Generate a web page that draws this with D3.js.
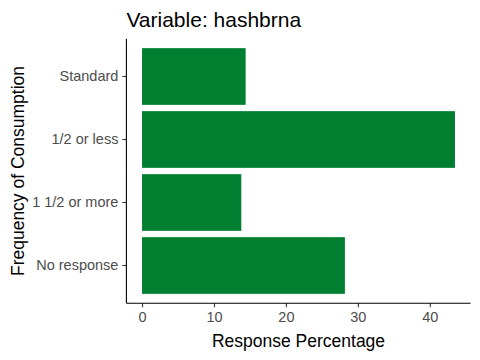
<!DOCTYPE html>
<html>
<head>
<meta charset="utf-8">
<script src="https://cdn.jsdelivr.net/npm/d3@7"></script>
<style>
  body { margin: 0; background: #fff; }
  svg { display: block; font-family: "Liberation Sans", Arial, sans-serif; }
</style>
</head>
<body>
<svg id="chart" width="480" height="360"></svg>
<script>
const categories = ["Standard", "1/2 or less", "1 1/2 or more", "No response"];
const values = [14.4, 43.5, 13.8, 28.2];
const xTicks = [0, 10, 20, 30, 40];
const titleText = "Variable: hashbrna";
const xTitle = "Response Percentage";
const yTitle = "Frequency of Consumption";

const svg = d3.select("#chart");
const panel = { left: 126.4, right: 470.6, top: 38.7, bottom: 303.3 };

const maxV = d3.max(values);
const x = d3.scaleLinear()
  .domain([0 - maxV * 0.05, maxV * 1.05])
  .range([panel.left, panel.right]);

const y = d3.scaleBand()
  .domain(categories)
  .range([panel.top, panel.bottom])
  .paddingInner(0.1)
  .paddingOuter(0.15);

// bars
svg.append("g").selectAll("rect")
  .data(categories.map((c, i) => ({ c, v: values[i] })))
  .join("rect")
  .attr("x", x(0))
  .attr("y", d => y(d.c))
  .attr("width", d => x(d.v) - x(0))
  .attr("height", y.bandwidth())
  .attr("fill", "#017F31");

// x axis
const xAxis = svg.append("g")
  .attr("transform", `translate(0,${panel.bottom})`)
  .call(d3.axisBottom(x).tickValues(xTicks).tickSize(4).tickPadding(4).tickFormat(d3.format("d")));
xAxis.select(".domain").remove();
xAxis.selectAll(".tick line").attr("stroke", "#333").attr("stroke-width", 1.1);
xAxis.selectAll(".tick text").attr("fill", "#4D4D4D").style("font-size", "14.5px")
  .style("font-family", "Liberation Sans, Arial, sans-serif");
svg.append("line")
  .attr("x1", panel.left).attr("x2", panel.right)
  .attr("y1", panel.bottom).attr("y2", panel.bottom)
  .attr("stroke", "#000").attr("stroke-width", 1.1);

// y axis
const yAxis = svg.append("g")
  .attr("transform", `translate(${panel.left},0)`)
  .call(d3.axisLeft(y).tickSize(4).tickPadding(4));
yAxis.select(".domain").remove();
yAxis.selectAll(".tick line").attr("stroke", "#333").attr("stroke-width", 1.1);
yAxis.selectAll(".tick text").attr("fill", "#4D4D4D").style("font-size", "14.5px")
  .style("font-family", "Liberation Sans, Arial, sans-serif");
svg.append("line")
  .attr("x1", panel.left).attr("x2", panel.left)
  .attr("y1", panel.top).attr("y2", panel.bottom)
  .attr("stroke", "#000").attr("stroke-width", 1.1);

// titles
svg.append("text")
  .attr("x", panel.left).attr("y", 27)
  .attr("fill", "#000")
  .style("font-size", "21px")
  .text(titleText);

svg.append("text")
  .attr("x", (panel.left + panel.right) / 2).attr("y", 347)
  .attr("text-anchor", "middle")
  .attr("fill", "#000")
  .style("font-size", "17.5px")
  .text(xTitle);

svg.append("text")
  .attr("transform", `translate(24,${(panel.top + panel.bottom) / 2}) rotate(-90)`)
  .attr("text-anchor", "middle")
  .attr("fill", "#000")
  .style("font-size", "17.5px")
  .text(yTitle);
</script>
</body>
</html>
